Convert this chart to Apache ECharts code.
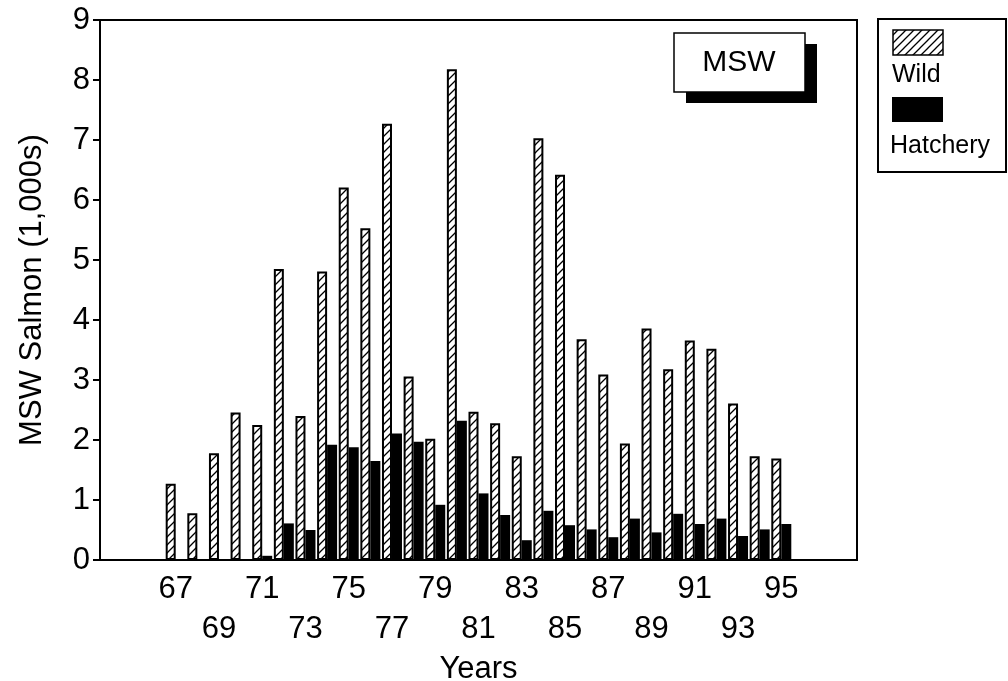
<!DOCTYPE html>
<html>
<head>
<meta charset="utf-8">
<title>MSW Salmon</title>
<script src="https://cdn.jsdelivr.net/npm/echarts@6/dist/echarts.min.js"></script>
<style>
	html, body {margin: 0; padding: 0; background: #fff;}
	#main {width: 1008px; height: 681px;}
</style>
</head>
<body>
<div id="main"></div>
<script>
// 年份（横轴类目）
var years = ['64','65','66','67','68','69','70','71','72','73','74','75','76','77','78','79','80','81',
	'82','83','84','85','86','87','88','89','90','91','92','93','94','95','96','97','98'];
// 野生鱼 (1,000s)
var wildData = [null,null,null,1.27,0.78,1.78,2.46,2.25,4.85,2.40,4.81,6.21,5.53,7.27,3.06,2.02,8.18,2.47,
	2.28,1.73,7.03,6.42,3.68,3.09,1.94,3.86,3.18,3.66,3.52,2.61,1.73,1.69,null,null,null];
// 孵化场鱼 (1,000s)
var hatcheryData = [null,null,null,null,null,null,null,0.07,0.61,0.50,1.92,1.88,1.65,2.11,1.97,0.92,2.32,1.11,
	0.75,0.33,0.82,0.58,0.51,0.38,0.69,0.46,0.77,0.60,0.69,0.40,0.51,0.60,null,null,null];
// 纵轴刻度
var yTicks = [0, 9, 1];

var fontName = "'Liberation Sans', Arial, sans-serif";
var chart = null;

//斜线填充
function hatchPattern() {
	var c = document.createElement('canvas');
	c.width = 8;
	c.height = 8;
	var ctx = c.getContext('2d');
	ctx.fillStyle = '#fff';
	ctx.fillRect(0, 0, 8, 8);
	ctx.strokeStyle = '#000';
	ctx.lineWidth = 1.3;
	ctx.beginPath();
	ctx.moveTo(0, 8); ctx.lineTo(8, 0);
	ctx.moveTo(-1, 1); ctx.lineTo(1, -1);
	ctx.moveTo(7, 9); ctx.lineTo(9, 7);
	ctx.stroke();
	return {image: c, repeat: 'repeat'};
}

function initChart() {
	chart = echarts.init(document.getElementById('main'));
	var hatch = hatchPattern();

	var option = {
		animation: false,
		backgroundColor: '#fff',
		textStyle: {fontFamily: fontName},
		grid: {
			left: 100,
			right: 151,
			top: 20,
			bottom: 121,
			outerBoundsMode: 'none',
			containLabel: false,
			show: true,
			borderColor: '#000',
			borderWidth: 2
		},
		xAxis: {
			type: 'category',
			data: years,
			name: 'Years',
			nameLocation: 'middle',
			nameGap: 93,
			nameTextStyle: {color: '#000', fontSize: 31, fontFamily: fontName},
			axisLine: {lineStyle: {color: '#000', width: 2}},
			axisTick: {
				length: 8,
				lineStyle: {color: '#000', width: 2},
				interval: function (index) {
					return index === 0 || (index >= 4 && index <= 31);
				}
			},
			axisLabel: {
				interval: 0,
				color: '#000',
				fontSize: 31,
				lineHeight: 40,
				margin: 9,
				fontFamily: fontName,
				formatter: function (v) {
					var y = parseInt(v, 10);
					if (y < 67 || y > 95 || y % 2 === 0) return '';
					return ((y - 67) % 4 === 0) ? v : '\n' + v;
				}
			},
			splitLine: {show: false}
		},
		yAxis: {
			type: 'value',
			min: yTicks[0],
			max: yTicks[1],
			interval: yTicks[2],
			name: 'MSW Salmon (1,000s)',
			nameLocation: 'middle',
			nameGap: 52,
			nameTextStyle: {color: '#000', fontSize: 31, fontFamily: fontName},
			axisLine: {show: true, lineStyle: {color: '#000', width: 2}},
			axisTick: {show: true, length: 7, lineStyle: {color: '#000', width: 2}},
			axisLabel: {color: '#000', fontSize: 31, margin: 10, fontFamily: fontName},
			splitLine: {show: false}
		},
		series: [{
			name: 'Wild',
			type: 'bar',
			data: wildData,
			barWidth: 10,
			barGap: '0%',
			itemStyle: {color: hatch, borderColor: '#000', borderWidth: 2}
		}, {
			name: 'Hatchery',
			type: 'bar',
			data: hatcheryData,
			barWidth: 10,
			itemStyle: {color: '#000'}
		}],
		graphic: [
			//MSW 标签
			{type: 'rect', shape: {x: 686, y: 44, width: 131, height: 59}, style: {fill: '#000'}},
			{type: 'rect', shape: {x: 674, y: 33, width: 131, height: 59}, style: {fill: '#fff', stroke: '#000', lineWidth: 1.5}},
			{type: 'text', x: 739, y: 63, style: {text: 'MSW', fill: '#000', font: '30px ' + fontName, align: 'center', verticalAlign: 'middle'}},
			//图例
			{type: 'rect', shape: {x: 878, y: 19, width: 128, height: 153}, style: {fill: '#fff', stroke: '#000', lineWidth: 2}},
			{type: 'rect', shape: {x: 893, y: 30, width: 50, height: 25}, style: {fill: hatch, stroke: '#000', lineWidth: 1.5}},
			{type: 'text', x: 892, y: 75, style: {text: 'Wild', fill: '#000', font: '25px ' + fontName, verticalAlign: 'middle'}},
			{type: 'rect', shape: {x: 892, y: 97, width: 51, height: 25}, style: {fill: '#000'}},
			{type: 'text', x: 890, y: 146, style: {text: 'Hatchery', fill: '#000', font: '25px ' + fontName, verticalAlign: 'middle'}}
		]
	};

	chart.setOption(option);
	window.addEventListener("resize", function () {
		chart.resize();
	});
}

initChart();
</script>
</body>
</html>
